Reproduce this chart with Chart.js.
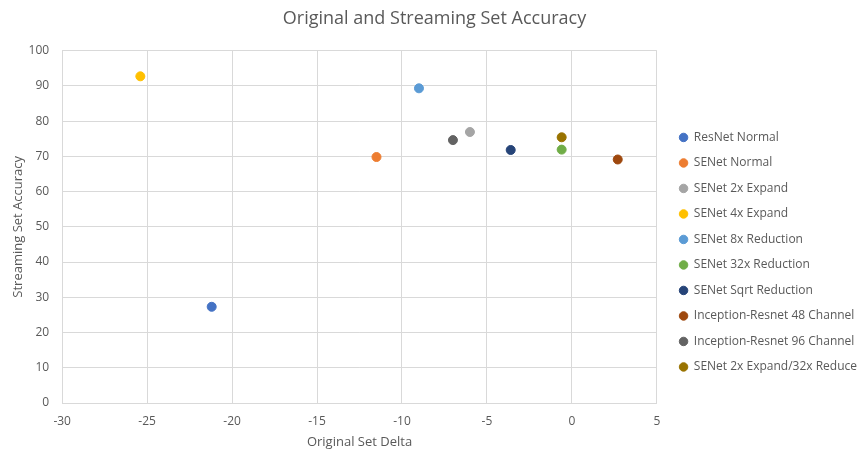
<!DOCTYPE html>
<html>
<head>
<meta charset="utf-8">
<script src="https://cdn.jsdelivr.net/npm/chart.js@4/dist/chart.umd.min.js"></script>
<style>
  html, body { margin: 0; padding: 0; background: #fff; }
  #wrap { width: 859px; height: 450px; position: relative; }
</style>
</head>
<body>
<div id="wrap"><canvas id="scatter_chart"></canvas></div>
<script>
// model names, one series per model
var model_names = [
  "ResNet Normal",
  "SENet Normal",
  "SENet 2x Expand",
  "SENet 4x Expand",
  "SENet 8x Reduction",
  "SENet 32x Reduction",
  "SENet Sqrt Reduction",
  "Inception-Resnet 48 Channel",
  "Inception-Resnet 96 Channel",
  "SENet 2x Expand/32x Reduce"
];
// original set delta (x)
var original_delta = [-21.2, -11.5, -6.0, -25.4, -9.0, -0.6, -3.6, 2.7, -7.0, -0.6];
// streaming set accuracy (y)
var streaming_acc = [27.3, 69.8, 76.9, 92.7, 89.3, 71.9, 71.8, 69.1, 74.6, 75.4];

var point_colors = ["#4472C4", "#ED7D31", "#A5A5A5", "#FFC000", "#5B9BD5",
                    "#70AD47", "#264478", "#9E480E", "#636363", "#997300"];

var x_ticks = { min: -30, max: 5, step: 5 };
var y_ticks = { min: 0, max: 100, step: 10 };

var txt_color = "#595959";
var grid_color = "#D9D9D9";

var datasets = [];
for (var i = 0; i < model_names.length; i++) {
  datasets.push({
    label: model_names[i],
    data: [{ x: original_delta[i], y: streaming_acc[i] }],
    backgroundColor: point_colors[i],
    borderColor: point_colors[i],
    pointRadius: 4.5,
    pointHoverRadius: 4.5,
    pointStyle: "circle"
  });
}

var ctx = document.getElementById("scatter_chart");
var scatter_chart = new Chart(ctx, {
  type: "scatter",
  data: { datasets: datasets },
  options: {
    responsive: true,
    maintainAspectRatio: false,
    animation: false,
    // negative right padding lets the legend text run close to the edge like the original
    layout: { padding: { left: 2, right: -8, top: 4, bottom: 0 } },
    plugins: {
      tooltip: { enabled: false },
      title: {
        display: true,
        text: "Original and Streaming Set Accuracy",
        color: txt_color,
        font: { family: "Open Sans", size: 18, weight: "normal" },
        padding: { top: 4, bottom: 21 }
      },
      legend: {
        position: "right",
        maxWidth: 240,
        title: { display: true, text: " ", padding: { top: 0, bottom: 36 }, font: { size: 12 } },
        labels: {
          usePointStyle: true,
          pointStyle: "circle",
          boxWidth: 6,
          boxHeight: 6,
          pointStyleWidth: 8.5,
          padding: 13.5,
          color: txt_color,
          font: { family: "Open Sans", size: 12 }
        }
      }
    },
    scales: {
      x: {
        type: "linear",
        min: x_ticks.min,
        max: x_ticks.max,
        ticks: { stepSize: x_ticks.step, padding: 11, color: txt_color, font: { family: "Open Sans", size: 12 } },
        grid: { color: grid_color, lineWidth: 1, drawTicks: false },
        border: { color: grid_color },
        title: { display: true, text: "Original Set Delta", color: txt_color,
                 font: { family: "Open Sans", size: 13 }, padding: { top: -5, bottom: 0 } }
      },
      y: {
        type: "linear",
        min: y_ticks.min,
        max: y_ticks.max,
        ticks: { stepSize: y_ticks.step, padding: 13, color: txt_color, font: { family: "Open Sans", size: 12 } },
        grid: { color: grid_color, lineWidth: 1, drawTicks: false },
        border: { color: grid_color },
        title: { display: true, text: "Streaming Set Accuracy", color: txt_color,
                 font: { family: "Open Sans", size: 13 }, padding: { top: 8, bottom: -10 } }
      },
      // empty right axis, only keeps a gap between the plot and the legend
      gap: {
        type: "linear",
        position: "right",
        display: true,
        ticks: { display: false },
        grid: { display: false, drawTicks: false },
        border: { display: false },
        afterFit: function(scale) { scale.width = 9; }
      }
    }
  }
});
</script>
</body>
</html>
